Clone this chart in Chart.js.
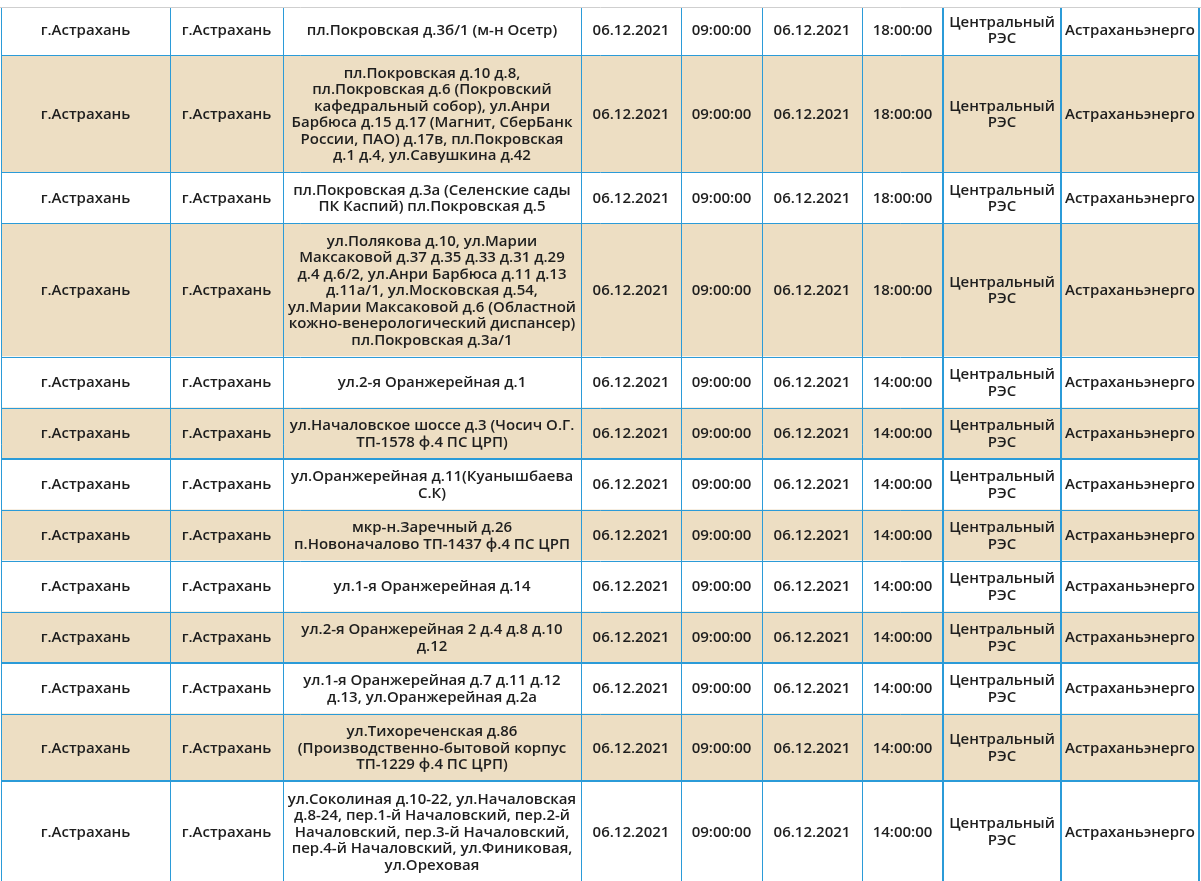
<!DOCTYPE html>
<html>
<head>
<meta charset="utf-8">
<script src="https://cdn.jsdelivr.net/npm/chart.js@4/dist/chart.umd.min.js"></script>
<style>
html,body{margin:0;padding:0;background:#fff;}
canvas{display:block;}
</style>
</head>
<body>
<canvas id="c" width="1201" height="881"></canvas>
<script>
// ---- table content ----
const regions = ['г.Астрахань','г.Астрахань','г.Астрахань','г.Астрахань','г.Астрахань','г.Астрахань','г.Астрахань','г.Астрахань','г.Астрахань','г.Астрахань','г.Астрахань','г.Астрахань','г.Астрахань'];
const localities = ['г.Астрахань','г.Астрахань','г.Астрахань','г.Астрахань','г.Астрахань','г.Астрахань','г.Астрахань','г.Астрахань','г.Астрахань','г.Астрахань','г.Астрахань','г.Астрахань','г.Астрахань'];
const addresses = [
  ['пл.Покровская д.3б/1 (м-н Осетр)'],
  ['пл.Покровская д.10 д.8,','пл.Покровская д.6 (Покровский','кафедральный собор), ул.Анри','Барбюса д.15 д.17 (Магнит, СберБанк','России, ПАО) д.17в, пл.Покровская','д.1 д.4, ул.Савушкина д.42'],
  ['пл.Покровская д.3а (Селенские сады','ПК Каспий) пл.Покровская д.5'],
  ['ул.Полякова д.10, ул.Марии','Максаковой д.37 д.35 д.33 д.31 д.29','д.4 д.6/2, ул.Анри Барбюса д.11 д.13','д.11а/1, ул.Московская д.54,','ул.Марии Максаковой д.6 (Областной','кожно-венерологический диспансер)','пл.Покровская д.3а/1'],
  ['ул.2-я Оранжерейная д.1'],
  ['ул.Началовское шоссе д.3 (Чосич О.Г.','ТП-1578 ф.4 ПС ЦРП)'],
  ['ул.Оранжерейная д.11(Куанышбаева','С.К)'],
  ['мкр-н.Заречный д.26','п.Новоначалово ТП-1437 ф.4 ПС ЦРП'],
  ['ул.1-я Оранжерейная д.14'],
  ['ул.2-я Оранжерейная 2 д.4 д.8 д.10','д.12'],
  ['ул.1-я Оранжерейная д.7 д.11 д.12','д.13, ул.Оранжерейная д.2а'],
  ['ул.Тихореченская д.86','(Производственно-бытовой корпус','ТП-1229 ф.4 ПС ЦРП)'],
  ['ул.Соколиная д.10-22, ул.Началовская','д.8-24, пер.1-й Началовский, пер.2-й','Началовский, пер.3-й Началовский,','пер.4-й Началовский, ул.Финиковая,','ул.Ореховая']
];
const startDates = ['06.12.2021','06.12.2021','06.12.2021','06.12.2021','06.12.2021','06.12.2021','06.12.2021','06.12.2021','06.12.2021','06.12.2021','06.12.2021','06.12.2021','06.12.2021'];
const startTimes = ['09:00:00','09:00:00','09:00:00','09:00:00','09:00:00','09:00:00','09:00:00','09:00:00','09:00:00','09:00:00','09:00:00','09:00:00','09:00:00'];
const endDates = ['06.12.2021','06.12.2021','06.12.2021','06.12.2021','06.12.2021','06.12.2021','06.12.2021','06.12.2021','06.12.2021','06.12.2021','06.12.2021','06.12.2021','06.12.2021'];
const endTimes = ['18:00:00','18:00:00','18:00:00','18:00:00','14:00:00','14:00:00','14:00:00','14:00:00','14:00:00','14:00:00','14:00:00','14:00:00','14:00:00'];
const departments = [
  ['Центральный','РЭС'],['Центральный','РЭС'],['Центральный','РЭС'],['Центральный','РЭС'],['Центральный','РЭС'],
  ['Центральный','РЭС'],['Центральный','РЭС'],['Центральный','РЭС'],['Центральный','РЭС'],['Центральный','РЭС'],
  ['Центральный','РЭС'],['Центральный','РЭС'],['Центральный','РЭС']
];
const companies = ['Астраханьэнерго','Астраханьэнерго','Астраханьэнерго','Астраханьэнерго','Астраханьэнерго','Астраханьэнерго','Астраханьэнерго','Астраханьэнерго','Астраханьэнерго','Астраханьэнерго','Астраханьэнерго','Астраханьэнерго','Астраханьэнерго'];

// ---- layout / style ----
const COL_W = [169, 113, 298, 100, 81, 100, 81, 118, 138];
const LEFT = 1, TOP = 4, CLIP_TOP = 7;
const LINE_H = 16.5, PAD = 18;
const BORDER = '#2b9bd8', BEIGE = '#eddec3', TEXT = '#1e1e1e';
const FONT = '600 15px "Open Sans"';

const columns = [regions, localities, addresses, startDates, startTimes, endDates, endTimes, departments, companies];
const asLines = v => Array.isArray(v) ? v : [v];
const rowCount = regions.length;
const rowLines = [];
for (let r = 0; r < rowCount; r++) rowLines.push(Math.max(...columns.map(c => asLines(c[r]).length)));
const rowEdges = [TOP];
rowLines.forEach(n => rowEdges.push(rowEdges[rowEdges.length-1] + n*LINE_H + PAD));
const colEdges = [LEFT];
COL_W.forEach(w => colEdges.push(colEdges[colEdges.length-1] + w));
const thickCols = new Set([7, 8, 9]);
const thickRows = new Set([6, 10, 12]);

const tablePlugin = {
  id: 'tablePlugin',
  beforeDatasetsDraw(chart) {
    const ctx = chart.ctx, xs = chart.scales.x, ys = chart.scales.y;
    const px = v => xs.getPixelForValue(v), py = v => ys.getPixelForValue(v);
    ctx.save();
    ctx.beginPath();
    ctx.rect(0, py(CLIP_TOP), chart.width, chart.height);
    ctx.clip();
    // row backgrounds
    for (let r = 0; r < rowCount; r++) {
      ctx.fillStyle = (r % 2 === 1) ? BEIGE : '#ffffff';
      ctx.fillRect(px(colEdges[0]), py(rowEdges[r]), px(colEdges[colEdges.length-1]) - px(colEdges[0]), py(rowEdges[r+1]) - py(rowEdges[r]));
    }
    // text
    ctx.font = FONT;
    ctx.fillStyle = TEXT;
    ctx.textAlign = 'center';
    ctx.textBaseline = 'middle';
    for (let r = 0; r < rowCount; r++) {
      const cy = (py(rowEdges[r]) + py(rowEdges[r+1])) / 2;
      columns.forEach((col, c) => {
        const lines = asLines(col[r]);
        const cx = (px(colEdges[c]) + px(colEdges[c+1])) / 2;
        const y0 = cy - (lines.length - 1) * LINE_H / 2;
        lines.forEach((t, i) => ctx.fillText(t, cx, y0 + i * LINE_H + 1));
      });
    }
    // borders
    ctx.strokeStyle = BORDER;
    const bottom = py(rowEdges[rowEdges.length-1]);
    colEdges.forEach((x, i) => {
      const w = thickCols.has(i) ? 2 : 1;
      ctx.lineWidth = w;
      const xx = Math.round(px(x)) + (w === 1 ? 0.5 : 0);
      ctx.beginPath(); ctx.moveTo(xx, py(CLIP_TOP)); ctx.lineTo(xx, bottom); ctx.stroke();
    });
    rowEdges.forEach((y, i) => {
      if (i === 0) return;
      const w = thickRows.has(i) ? 2 : 1;
      ctx.lineWidth = w;
      const yy = Math.round(py(y)) + (w === 1 ? 0.5 : 0);
      ctx.beginPath(); ctx.moveTo(px(colEdges[0]), yy); ctx.lineTo(px(colEdges[colEdges.length-1]) + 1, yy); ctx.stroke();
    });
    ctx.restore();
    // top gray rule
    ctx.save();
    ctx.strokeStyle = '#cfcfcf';
    ctx.lineWidth = 1;
    ctx.beginPath(); ctx.moveTo(0, Math.round(py(CLIP_TOP)) + 0.5); ctx.lineTo(chart.width, Math.round(py(CLIP_TOP)) + 0.5); ctx.stroke();
    ctx.restore();
  }
};

document.fonts.load(FONT).finally(() => {
  new Chart(document.getElementById('c'), {
    type: 'scatter',
    data: { datasets: [{ data: [] }] },
    options: {
      responsive: false,
      animation: false,
      devicePixelRatio: 1,
      layout: { padding: 0 },
      plugins: { legend: { display: false }, tooltip: { enabled: false } },
      scales: {
        x: { type: 'linear', min: 0, max: 1201, display: false },
        y: { type: 'linear', min: 0, max: 881, reverse: true, display: false }
      }
    },
    plugins: [tablePlugin]
  });
});
</script>
</body>
</html>
